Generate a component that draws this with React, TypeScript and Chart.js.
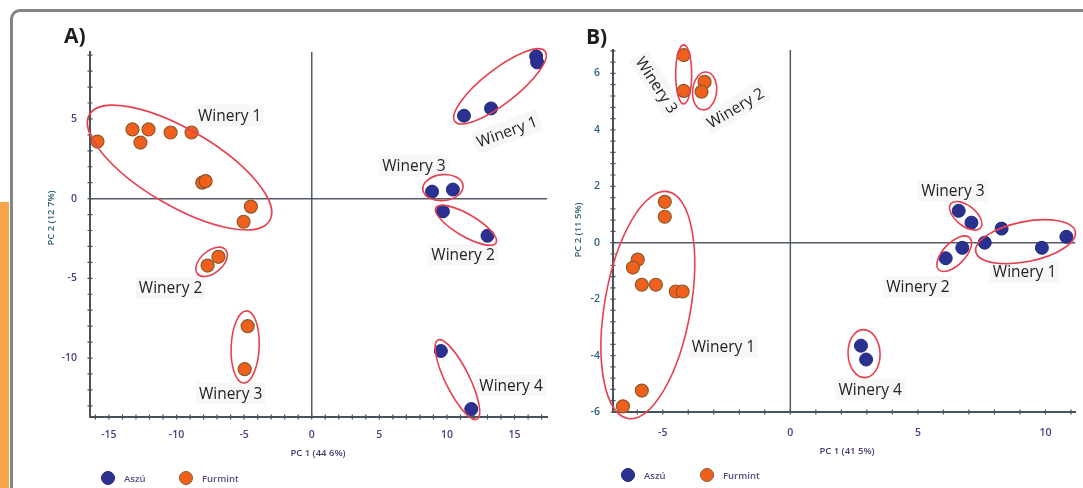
import React, { useEffect, useRef } from 'react';
import { Chart, registerables } from 'chart.js';

Chart.register(...registerables);

// ---------- Panel A data (PC1 44.6%, PC2 12.7%) ----------
const aszuA: [number, number][] = [
  [16.6, 8.93], [16.67, 8.55], [11.26, 5.2], [13.26, 5.66],
  [8.9, 0.44], [10.44, 0.57], [9.7, -0.8], [13.0, -2.33],
  [9.55, -9.56], [11.8, -13.2],
];
const furmintA: [number, number][] = [
  [-15.85, 3.58], [-13.26, 4.34], [-12.07, 4.34], [-12.67, 3.52],
  [-10.44, 4.15], [-8.89, 4.15], [-8.1, 1.0], [-7.85, 1.1],
  [-4.5, -0.5], [-5.04, -1.45], [-7.7, -4.2], [-6.9, -3.65],
  [-4.74, -8.0], [-4.96, -10.7],
];
const xRangeA = [-16.4, 17.4];
const yRangeA = [-13.7, 9.2];

// ---------- Panel B data (PC1 41.5%, PC2 11.5%) ----------
const aszuB: [number, number][] = [
  [6.6, 1.13], [7.1, 0.71], [8.28, 0.5], [10.82, 0.21], [7.62, 0.0],
  [9.86, -0.18], [6.09, -0.55], [6.74, -0.18], [2.77, -3.65], [2.97, -4.14],
];
const furmintB: [number, number][] = [
  [-4.18, 6.65], [-4.18, 5.38], [-3.36, 5.7], [-3.48, 5.35],
  [-4.92, 1.45], [-4.92, 0.92], [-5.98, -0.6], [-6.17, -0.88],
  [-5.82, -1.49], [-5.27, -1.49], [-4.49, -1.73], [-4.22, -1.73],
  [-5.82, -5.24], [-6.56, -5.8],
];
const xRangeB = [-6.95, 11.17];
const yRangeB = [-6, 6.83];

const seriesNames = ['Aszú', 'Furmint'];

// ---------- group ellipses (major-axis endpoints in data units) ----------
type Group = { from: [number, number]; to: [number, number]; hw: number };
const groupsA: Group[] = [
  { from: [-16.44, 5.28], to: [-3.11, -1.38], hw: 38 },
  { from: [-8.44, -4.72], to: [-6.37, -3.21], hw: 11 },
  { from: [-4.81, -7.04], to: [-5.04, -11.57], hw: 14 },
  { from: [10.59, 4.84], to: [17.26, 9.25], hw: 17 },
  { from: [8.22, 0.57], to: [11.19, 0.82], hw: 13 },
  { from: [9.19, -0.57], to: [13.63, -2.77], hw: 11 },
  { from: [9.33, -8.87], to: [12.22, -13.84], hw: 12 },
];
const groupsB: Group[] = [
  { from: [-4.18, 7.01], to: [-4.18, 4.92], hw: 8 },
  { from: [-3.28, 6.05], to: [-3.44, 4.71], hw: 12 },
  { from: [-4.8, 1.81], to: [-6.37, -6.23], hw: 43 },
  { from: [6.29, 1.38], to: [7.46, 0.53], hw: 10 },
  { from: [7.27, -0.32], to: [11.17, 0.39], hw: 20 },
  { from: [5.82, -0.96], to: [7.03, 0.18], hw: 11 },
  { from: [2.85, -3.08], to: [2.93, -4.78], hw: 16 },
];

type Label = { text: string; at: [number, number]; rot: number };
const labelsA: Label[] = [
  { text: 'Winery 1', at: [-6.07, 5.22], rot: 0 },
  { text: 'Winery 2', at: [-10.44, -5.6], rot: 0 },
  { text: 'Winery 3', at: [-6.0, -12.2], rot: 0 },
  { text: 'Winery 1', at: [14.44, 4.21], rot: -20 },
  { text: 'Winery 3', at: [7.56, 2.08], rot: 0 },
  { text: 'Winery 2', at: [11.19, -3.52], rot: 0 },
  { text: 'Winery 4', at: [14.74, -11.7], rot: 0 },
];
const labelsB: Label[] = [
  { text: 'Winery 3', at: [-5.23, 5.59], rot: 57 },
  { text: 'Winery 2', at: [-2.15, 4.78], rot: -31 },
  { text: 'Winery 1', at: [-2.62, -3.68], rot: 0 },
  { text: 'Winery 3', at: [6.37, 1.84], rot: 0 },
  { text: 'Winery 2', at: [5.0, -1.56], rot: 0 },
  { text: 'Winery 1', at: [9.18, -1.03], rot: 0 },
  { text: 'Winery 4', at: [3.13, -5.2], rot: 0 },
];

const BLUE = '#2b3191';
const BLUE_EDGE = '#232877';
const ORANGE = '#f0601c';
const ORANGE_EDGE = '#8a5a2c';
const AXIS = '#46525c';
const ELLIPSE = '#e8404f';

const decorPlugin = {
  id: 'pcaDecor',
  beforeDatasetsDraw(chart: any, _a: any, o: any) {
    const { ctx, chartArea: ca, scales } = chart;
    const x = scales.x, y = scales.y;
    ctx.save();
    const x0 = x.getPixelForValue(0), y0 = y.getPixelForValue(0);
    ctx.strokeStyle = '#545d66';
    ctx.lineWidth = 1.5;
    ctx.beginPath();
    ctx.moveTo(x0, ca.top); ctx.lineTo(x0, ca.bottom);
    ctx.moveTo(ca.left, y0); ctx.lineTo(ca.right, y0);
    ctx.stroke();
    ctx.strokeStyle = AXIS;
    ctx.lineWidth = 1.2;
    ctx.beginPath();
    for (let i = Math.ceil(x.min / o.xMinor); i * o.xMinor <= x.max + 1e-9; i++) {
      const px = x.getPixelForValue(i * o.xMinor);
      ctx.moveTo(px, ca.bottom - 2.5); ctx.lineTo(px, ca.bottom + 2.5);
    }
    for (let i = Math.ceil(y.min / o.yMinor - 1e-9); i * o.yMinor <= y.max + 1e-9; i++) {
      const py = y.getPixelForValue(i * o.yMinor);
      ctx.moveTo(ca.left - 2.5, py); ctx.lineTo(ca.left + 2.5, py);
    }
    ctx.stroke();
    ctx.restore();
  },
  afterDatasetsDraw(chart: any, _a: any, o: any) {
    const { ctx, scales } = chart;
    const x = scales.x, y = scales.y;
    ctx.save();
    ctx.strokeStyle = ELLIPSE;
    ctx.lineWidth = 1.6;
    (o.groups as Group[]).forEach((g) => {
      const x1 = x.getPixelForValue(g.from[0]), y1 = y.getPixelForValue(g.from[1]);
      const x2 = x.getPixelForValue(g.to[0]), y2 = y.getPixelForValue(g.to[1]);
      const cx = (x1 + x2) / 2, cy = (y1 + y2) / 2;
      const a = Math.hypot(x2 - x1, y2 - y1) / 2;
      const ang = Math.atan2(y2 - y1, x2 - x1);
      ctx.beginPath();
      ctx.ellipse(cx, cy, a, g.hw, ang, 0, Math.PI * 2);
      ctx.stroke();
    });
    ctx.font = '500 15.5px "Open Sans"';
    ctx.textAlign = 'center';
    ctx.textBaseline = 'middle';
    (o.labels as Label[]).forEach((l) => {
      const px = x.getPixelForValue(l.at[0]), py = y.getPixelForValue(l.at[1]);
      ctx.save();
      ctx.translate(px, py);
      ctx.rotate((l.rot * Math.PI) / 180);
      const w = ctx.measureText(l.text).width;
      ctx.fillStyle = 'rgba(0,0,0,0.03)';
      ctx.fillRect(-w / 2 - 3, -11, w + 6, 22);
      ctx.fillStyle = '#222222';
      ctx.fillText(l.text, 0, 1);
      ctx.restore();
    });
    ctx.restore();
  },
  afterDraw(chart: any, _a: any, o: any) {
    const { ctx } = chart;
    ctx.save();
    ctx.fillStyle = '#1e1e1e';
    ctx.font = 'bold 21px "Open Sans"';
    ctx.textAlign = 'left';
    ctx.textBaseline = 'middle';
    ctx.fillText(o.letter, o.letterPos[0], o.letterPos[1]);
    ctx.font = '600 9.5px "Open Sans"';
    ctx.textAlign = 'center';
    ctx.fillStyle = '#4a3a72';
    ctx.fillText(o.xTitle, o.xTitlePos[0], o.xTitlePos[1]);
    ctx.save();
    ctx.translate(o.yTitlePos[0], o.yTitlePos[1]);
    ctx.rotate(-Math.PI / 2);
    ctx.fillStyle = '#2f6070';
    ctx.fillText(o.yTitle, 0, 0);
    ctx.restore();
    // legend
    const [lx, ly] = o.legendPos;
    const items = [
      { c: BLUE, e: BLUE_EDGE, t: seriesNames[0], dx: 0 },
      { c: ORANGE, e: ORANGE_EDGE, t: seriesNames[1], dx: o.legendGap },
    ];
    items.forEach((it) => {
      ctx.beginPath();
      ctx.arc(lx + it.dx, ly, 6.5, 0, Math.PI * 2);
      ctx.fillStyle = it.c;
      ctx.fill();
      ctx.lineWidth = 1;
      ctx.strokeStyle = it.e;
      ctx.stroke();
      ctx.fillStyle = '#5b4a86';
      ctx.textAlign = 'left';
      ctx.fillText(it.t, lx + it.dx + 16, ly + 1);
    });
    ctx.restore();
  },
};

function makeScale(range: number[], step: number, pad: number, color: string, axis: 'x' | 'y', size: number) {
  return {
    type: 'linear',
    min: range[0],
    max: range[1],
    position: axis === 'x' ? 'bottom' : 'left',
    grid: { display: false, drawTicks: false },
    border: { display: true, color: AXIS, width: 2 },
    ticks: {
      stepSize: step,
      includeBounds: false,
      padding: pad,
      color,
      autoSkip: false,
      maxRotation: 0,
      font: { family: 'Open Sans', size: 10.5, weight: '600' },
      callback: (v: any) => String(v),
    },
    afterFit: (s: any) => {
      if (axis === 'x') s.height = size;
      else s.width = size;
    },
  };
}

function Panel(props: {
  left: number; width: number; aszu: [number, number][]; furmint: [number, number][];
  xRange: number[]; yRange: number[]; xStep: number; yStep: number; xMinor: number; yMinor: number;
  padding: any; yWidth: number; xHeight: number; xPad: number; yPad: number;
  xColor: string; yColor: string; decor: any;
}) {
  const ref = useRef<HTMLCanvasElement>(null);
  useEffect(() => {
    if (!ref.current) return;
    const pt = (d: [number, number][]) => d.map(([x, y]) => ({ x, y }));
    const chart = new Chart(ref.current, {
      type: 'scatter',
      data: {
        datasets: [
          {
            label: seriesNames[0], data: pt(props.aszu), backgroundColor: BLUE, borderColor: BLUE_EDGE,
            borderWidth: 1, pointRadius: 6.5, clip: false,
          } as any,
          {
            label: seriesNames[1], data: pt(props.furmint), backgroundColor: ORANGE, borderColor: ORANGE_EDGE,
            borderWidth: 1.2, pointRadius: 6.5, clip: false,
          } as any,
        ],
      },
      options: {
        responsive: false,
        animation: false,
        devicePixelRatio: 1,
        layout: { padding: props.padding },
        scales: {
          x: makeScale(props.xRange, props.xStep, props.xPad, props.xColor, 'x', props.xHeight) as any,
          y: makeScale(props.yRange, props.yStep, props.yPad, props.yColor, 'y', props.yWidth) as any,
        },
        plugins: {
          legend: { display: false },
          tooltip: { enabled: false },
          pcaDecor: { ...props.decor, xMinor: props.xMinor, yMinor: props.yMinor },
        } as any,
      },
      plugins: [decorPlugin as any],
    });
    return () => chart.destroy();
  }, []);
  return (
    <canvas
      ref={ref}
      width={props.width}
      height={488}
      style={{ position: 'absolute', left: props.left, top: 0, width: props.width, height: 488 }}
    />
  );
}

export default function App() {
  return (
    <div style={{ position: 'absolute', left: 0, top: 0, width: 1083, height: 488, overflow: 'hidden', background: '#fff' }}>
      <div style={{ position: 'absolute', left: 0, top: 202, width: 9, height: 300, background: '#f6a54c' }} />
      <div
        style={{
          position: 'absolute', left: 10, top: 9, width: 1120, height: 520,
          border: '3px solid #858585', borderRadius: 10, boxSizing: 'border-box',
        }}
      />
      <Panel
        left={0} width={560} aszu={aszuA} furmint={furmintA}
        xRange={xRangeA} yRange={yRangeA} xStep={5} yStep={5} xMinor={1} yMinor={1}
        padding={{ left: 0, right: 13, top: 52, bottom: 0 }} yWidth={90} xHeight={71}
        xPad={12} yPad={13} xColor="#553a80" yColor="#4f3f86"
        decor={{
          groups: groupsA, labels: labelsA, letter: 'A)', letterPos: [64, 37],
          xTitle: 'PC 1 (44 6%)', xTitlePos: [318, 453], yTitle: 'PC 2 (12 7%)', yTitlePos: [51, 218],
          legendPos: [108, 478], legendGap: 78,
        }}
      />
      <Panel
        left={560} width={523} aszu={aszuB} furmint={furmintB}
        xRange={xRangeB} yRange={yRangeB} xStep={5} yStep={2} xMinor={1} yMinor={0.4}
        padding={{ left: 0, right: 6, top: 50, bottom: 0 }} yWidth={53} xHeight={76}
        xPad={15} yPad={13} xColor="#553a80" yColor="#2a6482"
        decor={{
          groups: groupsB, labels: labelsB, letter: 'B)', letterPos: [26, 38],
          xTitle: 'PC 1 (41 5%)', xTitlePos: [287, 451], yTitle: 'PC 2 (11 5%)', yTitlePos: [18, 230],
          legendPos: [68, 475], legendGap: 79,
        }}
      />
    </div>
  );
}
